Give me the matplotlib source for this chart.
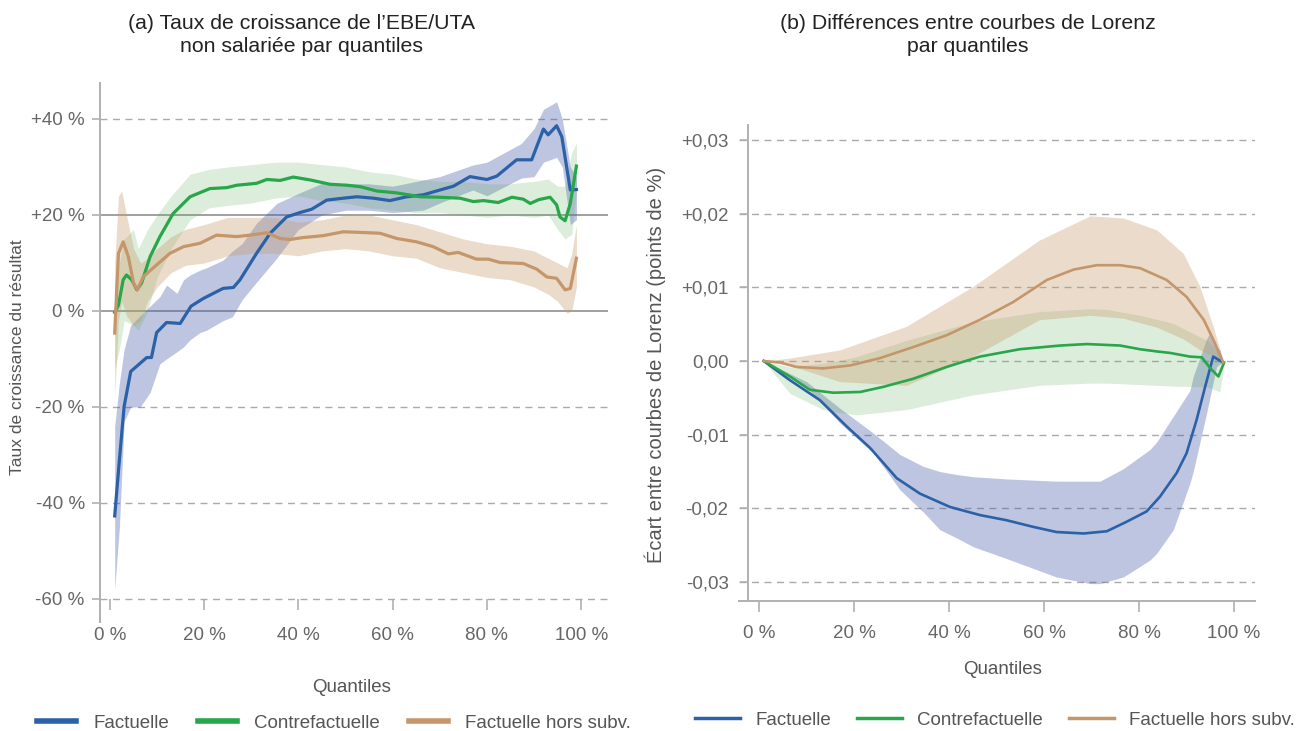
import matplotlib
matplotlib.use("Agg")
import matplotlib.pyplot as plt
from matplotlib.lines import Line2D

plt.rcParams['font.family'] = ['Liberation Sans', 'DejaVu Sans']

# ---------------- Panel (a) data : growth rate (%) by quantile ----------------
qa_fact = [1, 2, 3, 4.4, 6.4, 7.8, 8.8, 9.9, 12, 14.9, 17.2, 19.8, 24, 26.2, 27.6, 31.1, 34, 37.5,
           40.3, 42.8, 46, 49.5, 52.4, 55.9, 59.4, 63, 66.5, 70, 72.9, 76.4, 80, 82.1, 86.3, 89.5,
           92, 93, 94.8, 95.9, 97.7, 99]
va_fact = [-42.7, -31, -19.9, -12.6, -10.9, -9.7, -9.7, -4.5, -2.4, -2.6, 1.0, 2.6, 4.7, 4.9, 6.5,
           12, 16.2, 19.6, 20.5, 21.2, 23.1, 23.5, 23.8, 23.5, 23, 23.8, 24.2, 25.2, 26, 28, 27.4,
           28.1, 31.5, 31.5, 37.9, 36.7, 38.6, 36.3, 25.2, 25.3]
qa_fact_band = [1, 2, 3, 4.4, 6.4, 8.5, 10.6, 12, 14.2, 15.6, 17, 19.1, 20.5, 24, 26, 28, 31.1, 35.4,
                40, 45, 50, 55, 60, 66.5, 70, 77, 80, 87.3, 90, 92, 94.8, 96, 97.7, 99]
hia_fact = [-24, -15, -8, -3, -1, 1, 3, 5.4, 3.7, 6.5, 7.5, 8.5, 9, 10.6, 12.5, 14, 18.3, 22.4,
            24.5, 26.6, 26.5, 26.5, 26, 27.3, 28, 30.4, 31, 34.9, 38, 42, 43.6, 40, 30, 28]
loa_fact = [-58, -45, -23, -20, -20, -17, -11, -10, -8.5, -7.5, -6, -4.5, -4, -2, -1.2, 2.3, 6, 11,
            17, 20, 21, 21, 20.5, 21, 22.5, 25.2, 24, 27.7, 28, 31, 32, 30, 18, 19]

qa_contre = [1, 1.8, 2.8, 3.5, 4.6, 5.7, 6.7, 8.5, 10.6, 13.4, 17, 21.2, 24.8, 26.9, 31.1, 33.3,
             36.1, 38.9, 42.5, 46.7, 50.3, 53.1, 56.6, 60.9, 65.8, 70, 74.3, 77.1, 79.3, 82.4,
             85.3, 87.7, 89.2, 91, 93.4, 94.8, 95.5, 96.6, 97.7, 99]
va_contre = [-0.3, 1.2, 6.5, 7.5, 6.5, 4.4, 5.8, 11.3, 15.5, 20.3, 23.8, 25.5, 25.7, 26.2, 26.6,
             27.4, 27.2, 27.9, 27.3, 26.4, 26.2, 25.9, 25, 24.6, 23.8, 23.7, 23.5, 22.8, 23, 22.6,
             23.7, 23.3, 22.4, 23.2, 23.7, 22.1, 19.6, 18.8, 22.4, 30.2]
qa_contre_band = [1, 2, 3, 5, 6, 8, 10, 13, 17, 21, 25, 30, 35, 40, 45, 50, 55, 60, 65, 70, 75, 80,
                  85, 90, 93, 95, 96.6, 98, 99]
hia_contre = [6, 10, 15, 17, 13, 17, 20, 24, 28.5, 29.5, 30, 30.5, 31, 31, 30.5, 30, 29, 28.5,
              27.5, 27, 27, 26.5, 26.5, 27, 27.5, 26, 26, 33, 35]
loa_contre = [-12, -8, -2, -3, -4, 0, 7, 13, 19, 21.5, 22, 22.5, 23.5, 24, 23, 22.5, 21.5, 21,
              20.5, 20.5, 20, 19.5, 20, 19.5, 20, 17, 15, 16, 25]

qa_hors = [1, 1.8, 2.8, 3.9, 5, 5.8, 7.1, 9.9, 12.7, 15.6, 19.1, 22.6, 26.9, 29.7, 33.3, 36.1, 38.2,
           41, 45.3, 49.5, 52.4, 57.3, 60.9, 65.1, 68.6, 71.8, 73.9, 77.8, 80.3, 82.8, 87.7, 90.6,
           92.7, 94.8, 96.6, 97.7, 99]
va_hors = [-4.6, 12, 14.4, 11.3, 5.8, 4.4, 7.2, 9.6, 12, 13.4, 14.1, 15.8, 15.5, 15.8, 16.3, 15.1,
           14.9, 15.3, 15.7, 16.5, 16.4, 16.2, 15.1, 14.4, 13.4, 11.9, 12.2, 10.8, 10.8, 10.1, 9.9,
           8.7, 7.1, 6.8, 4.4, 4.7, 11]
qa_hors_band = [1, 1.8, 2.5, 3.5, 5, 6.5, 8, 10, 13, 16, 20, 25, 30, 35, 40, 45, 50, 55, 60, 65, 70,
                75, 80, 85, 90, 93, 95, 97, 98, 99]
hia_hors = [10, 24, 25, 20, 13, 10, 11, 13, 15.5, 17, 18, 19.5, 19.5, 19.5, 18.5, 19, 20, 20, 19,
            18, 16.5, 15, 14, 13.5, 12.5, 11, 10, 9, 12, 18]
loa_hors = [-18, -2, 2, -1, -3, -2, 2, 5, 8, 9.5, 10, 11.5, 12, 12, 11.5, 12.5, 13, 12.5, 11.5, 11,
            9, 8, 7, 6.5, 5, 3.5, 2, -0.5, 0, 5]

# ---------------- Panel (b) data : Lorenz curve differences ----------------
qb_fact = [1, 6.5, 12.8, 18.5, 23.4, 29, 33.9, 40.2, 46.5, 52.1, 57.7, 62.6, 68.3, 73.2, 77.4, 81.6,
           84.4, 87.9, 90, 92.1, 93.9, 95.6, 97.7]
vb_fact = [0, -0.0026, -0.0053, -0.0089, -0.0118, -0.0159, -0.018, -0.0198, -0.0209, -0.0216,
           -0.0225, -0.0232, -0.0234, -0.0231, -0.0218, -0.0204, -0.0184, -0.0152, -0.0125, -0.008,
           -0.0035, 0.0006, -0.0002]
qb_fact_band = [1, 10, 17, 24.1, 29.7, 34.6, 38.1, 41.6, 45.1, 52.1, 62.6, 69.7, 71.8, 76.7, 82.3,
                83.7, 87.2, 90.7, 91.4, 94.2, 94.9, 96.3, 97, 97.7]
hib_fact = [0, -0.0028, -0.0064, -0.0098, -0.0127, -0.0143, -0.015, -0.0154, -0.0157, -0.016,
            -0.0163, -0.0163, -0.0163, -0.0146, -0.012, -0.011, -0.0075, -0.004, -0.0021, 0.003,
            0.0038, 0.002, 0.0015, 0.0]
lob_fact = [0, -0.0035, -0.0084, -0.0125, -0.0175, -0.0205, -0.0229, -0.024, -0.0252, -0.0268,
            -0.0293, -0.0302, -0.0302, -0.0293, -0.027, -0.0261, -0.0229, -0.0166, -0.015, -0.0071,
            -0.005, -0.0008, -0.0004, -0.0002]

qb_contre = [1, 6.5, 10.7, 15.6, 21.3, 26.2, 32.5, 39.5, 46.5, 54.9, 63.4, 69, 76, 80.2, 83.7, 86.5,
             90.7, 93.2, 95, 96.7, 97.9]
vb_contre = [0, -0.0021, -0.0039, -0.0043, -0.0042, -0.0035, -0.0024, -0.0008, 0.0006, 0.0016,
             0.0021, 0.0023, 0.0021, 0.0016, 0.0013, 0.0011, 0.0006, 0.0005, -0.001, -0.0021, -0.0002]
qb_contre_band = [1, 6.5, 13.5, 17, 20.6, 31, 45, 59, 69.7, 73.2, 80.2, 87.2, 94.3, 97, 97.9]
hib_contre = [0, -0.0008, -0.0003, 0.0001, 0.0006, 0.0028, 0.0053, 0.0067, 0.0071, 0.007, 0.0062,
              0.0051, 0.0028, 0.001, 0]
lob_contre = [0, -0.0044, -0.0066, -0.007, -0.0073, -0.0066, -0.0046, -0.0033, -0.003, -0.003,
              -0.0032, -0.0034, -0.0035, -0.0042, -0.0004]

qb_hors = [1, 4.4, 7.9, 13.5, 19.2, 25.5, 32.5, 39.5, 46.5, 53.5, 60.6, 66.2, 71.1, 76, 80.2, 85.8,
           90, 93.6, 95.7, 97.7]
vb_hors = [0, -0.0002, -0.0008, -0.001, -0.0006, 0.0004, 0.0019, 0.0035, 0.0056, 0.008, 0.011,
           0.0124, 0.013, 0.013, 0.0126, 0.011, 0.0087, 0.0056, 0.0028, -0.0002]
qb_hors_band = [1, 6.5, 17, 31, 45, 59, 69.7, 76.7, 83.7, 89.3, 92.8, 95.6, 97.7]
hib_hors = [0, 0.0004, 0.0015, 0.0047, 0.0101, 0.0164, 0.0197, 0.0194, 0.0178, 0.0146, 0.0101,
            0.0047, 0.0]
lob_hors = [0, -0.0006, -0.0028, -0.0033, 0.0006, 0.0056, 0.0062, 0.0058, 0.0046, 0.003, 0.0015,
            0.0006, -0.0002]

# ---------------- Labels ----------------
series_names = ["Factuelle", "Contrefactuelle", "Factuelle hors subv."]
xticks = [0, 20, 40, 60, 80, 100]
xtick_labels = ["0 %", "20 %", "40 %", "60 %", "80 %", "100 %"]
yticks_a = [-60, -40, -20, 0, 20, 40]
ytick_labels_a = ["-60 %", "-40 %", "-20 %", "0 %", "+20 %", "+40 %"]
yticks_b = [-0.03, -0.02, -0.01, 0.0, 0.01, 0.02, 0.03]
ytick_labels_b = ["-0,03", "-0,02", "-0,01", "0,00", "+0,01", "+0,02", "+0,03"]
title_a = "(a) Taux de croissance de l\u2019EBE/UTA\nnon salariée par quantiles"
title_b = "(b) Différences entre courbes de Lorenz\npar quantiles"
ylabel_a = "Taux de croissance du résultat"
ylabel_b = "Écart entre courbes de Lorenz (points de %)"
xlabel = "Quantiles"

# ---------------- Style ----------------
line_cols = ["#2b61a7", "#27a64a", "#c4966a"]
band_cols = ["#4a5fae", "#60b060", "#c89a6a"]
band_alpha = [0.36, 0.22, 0.35]
tick_col = "#666666"
spine_col = "#b0b0b0"
grid_col = "#aaaaaa"

W, H = 1301, 731
fig = plt.figure(figsize=(W / 100, H / 100), dpi=100)

def fx(px):
    return px / W

def fy(py):
    return 1 - py / H

ax_a = fig.add_axes([fx(100), fy(622), fx(608) - fx(100), fy(83) - fy(622)])
ax_b = fig.add_axes([fx(739), fy(601), fx(1255) - fx(739), fy(125) - fy(601)])

# ---- panel a ----
bands_a = [(qa_fact_band, loa_fact, hia_fact), (qa_contre_band, loa_contre, hia_contre),
           (qa_hors_band, loa_hors, hia_hors)]
lines_a = [(qa_fact, va_fact), (qa_contre, va_contre), (qa_hors, va_hors)]
for i, (q, lo, hi) in enumerate(bands_a):
    ax_a.fill_between(q, lo, hi, color=band_cols[i], alpha=band_alpha[i], linewidth=0, zorder=2)
for i, (q, v) in enumerate(lines_a):
    ax_a.plot(q, v, color=line_cols[i], linewidth=2.3, zorder=3)

ax_a.set_xlim(-2.12, 105.7)
ax_a.set_ylim(-64.8, 47.5)
ax_a.set_xticks(xticks)
ax_a.set_xticklabels(xtick_labels)
ax_a.set_yticks(yticks_a)
ax_a.set_yticklabels(ytick_labels_a)
ax_a.spines['top'].set_visible(False)
ax_a.spines['right'].set_visible(False)
ax_a.spines['bottom'].set_position(('data', -60))
ax_a.spines['bottom'].set_visible(False)
ax_a.spines['left'].set_color(spine_col)
ax_a.spines['left'].set_linewidth(1.4)
ax_a.tick_params(axis='x', direction='out', length=8, width=1.2, color=spine_col,
                 labelcolor=tick_col, labelsize=13.5, pad=12)
ax_a.tick_params(axis='y', direction='out', length=6, width=1.2, color=spine_col,
                 labelcolor=tick_col, labelsize=13.5, pad=5)
ax_a.yaxis.grid(True, color=grid_col, linestyle=(0, (5, 4)), linewidth=1.0, zorder=1)
ax_a.set_axisbelow(True)
for val, gl in zip(yticks_a, ax_a.get_ygridlines()):
    if val in (0, 20):
        gl.set_linestyle('-')
        gl.set_color('#999999')
        gl.set_linewidth(1.3)

# ---- panel b ----
bands_b = [(qb_fact_band, lob_fact, hib_fact), (qb_contre_band, lob_contre, hib_contre),
           (qb_hors_band, lob_hors, hib_hors)]
lines_b = [(qb_fact, vb_fact), (qb_contre, vb_contre), (qb_hors, vb_hors)]
for i, (q, lo, hi) in enumerate(bands_b):
    ax_b.fill_between(q, lo, hi, color=band_cols[i], alpha=band_alpha[i], linewidth=0, zorder=2)
for i, (q, v) in enumerate(lines_b):
    ax_b.plot(q, v, color=line_cols[i], linewidth=1.9, zorder=3)

ax_b.set_xlim(-4.21, 104.4)
ax_b.set_ylim(-0.03256, 0.03202)
ax_b.set_xticks(xticks)
ax_b.set_xticklabels(xtick_labels)
ax_b.set_yticks(yticks_b)
ax_b.set_yticklabels(ytick_labels_b)
ax_b.spines['top'].set_visible(False)
ax_b.spines['right'].set_visible(False)
ax_b.spines['left'].set_position(('data', -2.32))
for s in ('left', 'bottom'):
    ax_b.spines[s].set_color(spine_col)
    ax_b.spines[s].set_linewidth(1.4)
ax_b.tick_params(axis='x', direction='out', length=8, width=1.2, color=spine_col,
                 labelcolor=tick_col, labelsize=13.5, pad=9)
ax_b.tick_params(axis='y', direction='out', length=6, width=1.2, color=spine_col,
                 labelcolor=tick_col, labelsize=13.5, pad=8)
ax_b.yaxis.grid(True, color=grid_col, linestyle=(0, (5, 4)), linewidth=1.0, zorder=1)
ax_b.set_axisbelow(True)

# ---- texts ----
fig.text(fx(302), fy(35), title_a, ha='center', va='center', fontsize=15.3, color='#222222',
         linespacing=1.3)
fig.text(fx(968), fy(35), title_b, ha='center', va='center', fontsize=15.3, color='#222222',
         linespacing=1.3)
fig.text(fx(18), fy(357), ylabel_a, rotation=90, ha='center', va='center', fontsize=12.5,
         color='#555555')
fig.text(fx(655), fy(365), ylabel_b, rotation=90, ha='center', va='center', fontsize=14.5,
         color='#555555')
fig.text(fx(352), fy(688), xlabel, ha='center', va='center', fontsize=13.5, color='#555555')
fig.text(fx(1003), fy(670), xlabel, ha='center', va='center', fontsize=13.5, color='#555555')

# ---- legends ----
handles_a = [Line2D([], [], color=c, linewidth=4) for c in line_cols]
handles_b = [Line2D([], [], color=c, linewidth=2.5) for c in line_cols]
fig.legend(handles_a, series_names, loc='center', bbox_to_anchor=(fx(334), fy(723)), ncol=3,
           frameon=False, fontsize=13.5, handlelength=2.1, handletextpad=0.9, columnspacing=1.55,
           labelcolor='#555555')
fig.legend(handles_b, series_names, loc='center', bbox_to_anchor=(fx(995), fy(720)), ncol=3,
           frameon=False, fontsize=13.5, handlelength=2.4, handletextpad=0.8, columnspacing=1.4,
           labelcolor='#555555')

fig.savefig("out.png", dpi=100)
